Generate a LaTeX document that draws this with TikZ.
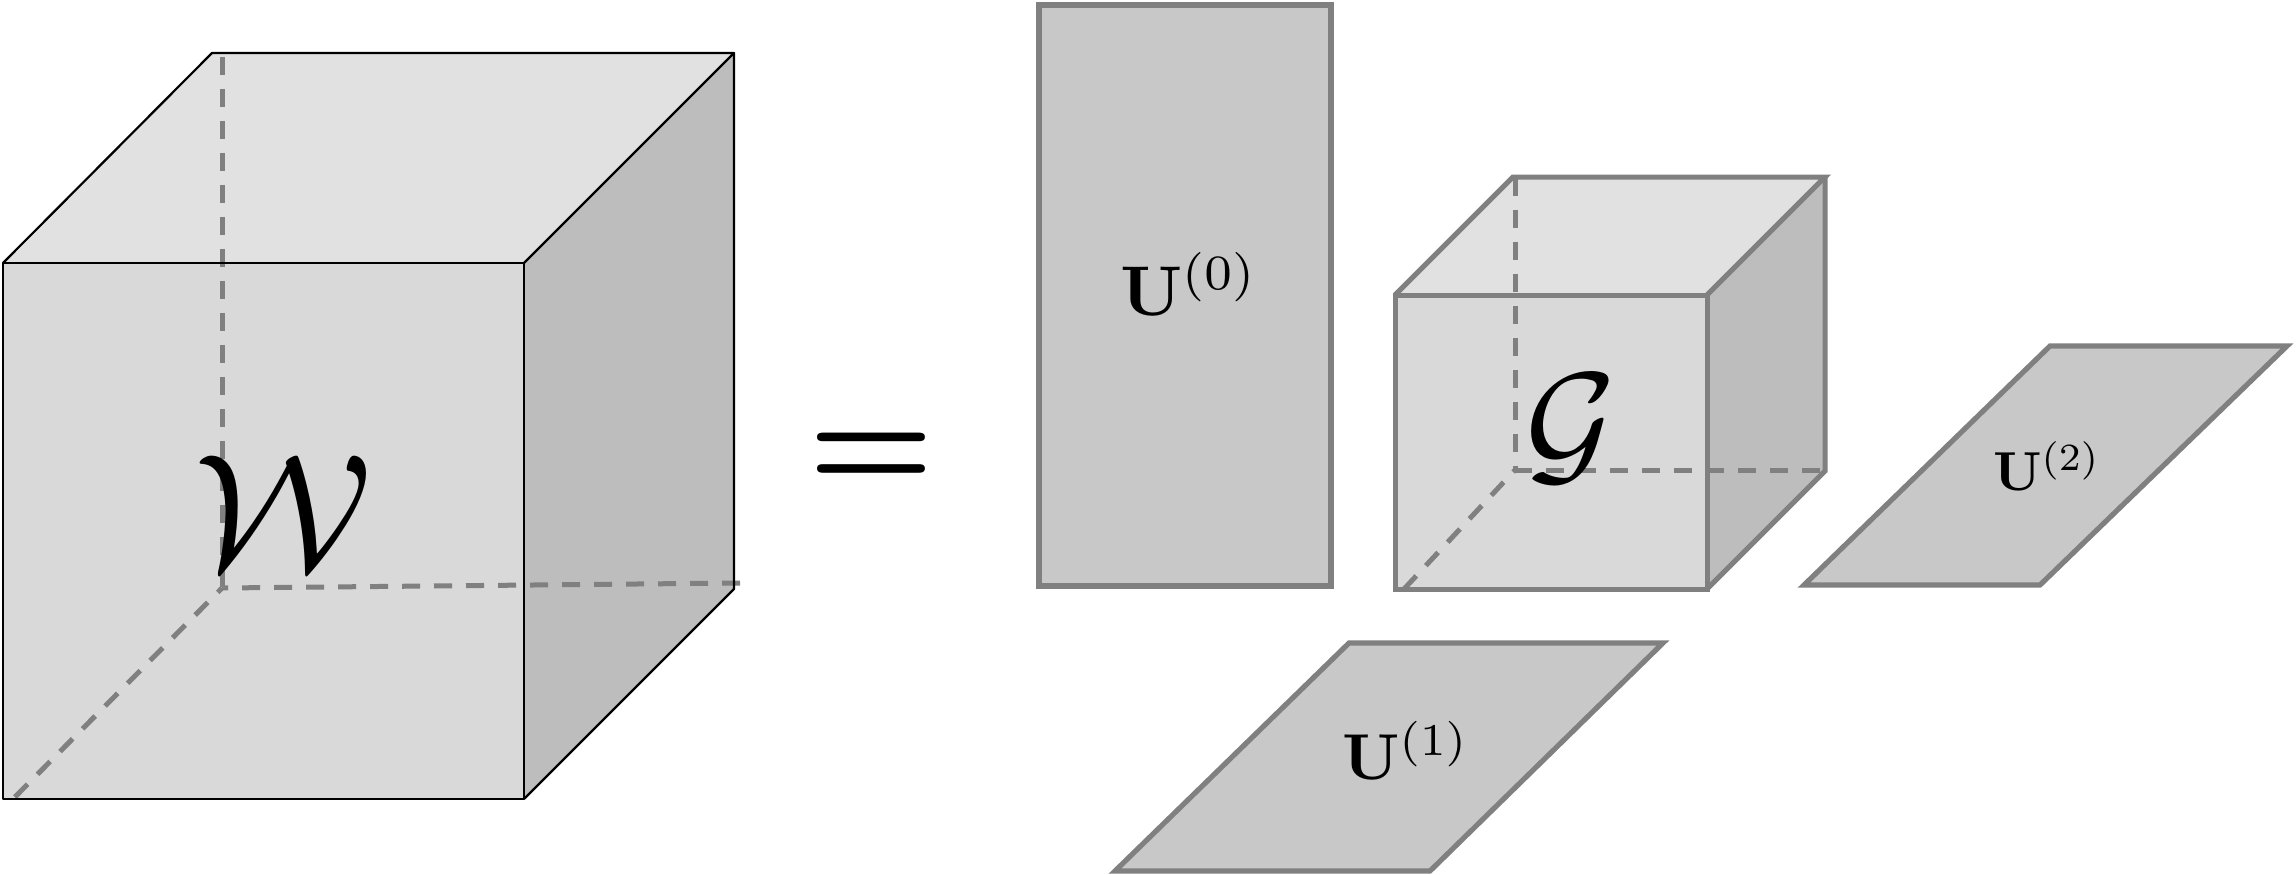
\documentclass[tikz,border=0pt]{standalone}
\begin{document}
\begin{tikzpicture}[x=1pt,y=-1pt,
  front/.style={fill=frontgray},
  topf/.style={fill=topgray},
  side/.style={fill=sidegray},
  bigedge/.style={draw=black,line width=2.2pt,line join=round},
  smalledge/.style={draw=edgegray,line width=5pt,line join=miter},
  bigdash/.style={draw=edgegray,line width=5pt,dash pattern=on 18pt off 14pt},
  smalldash/.style={draw=edgegray,line width=5pt,dash pattern=on 18pt off 14pt},
  matrixface/.style={draw=edgegray,fill=matgray,line width=5.2pt,line join=miter},
  lab/.style={inner sep=0pt,outer sep=0pt,anchor=base west}]
\definecolor{frontgray}{HTML}{D9D9D9}
\definecolor{topgray}{HTML}{E1E1E1}
\definecolor{sidegray}{HTML}{BDBDBD}
\definecolor{matgray}{HTML}{C8C8C8}
\definecolor{edgegray}{HTML}{808080}
\useasboundingbox (0,0) rectangle (2296,875);
% big cube
\fill[front] (3,263) -- (524,263) -- (524,799) -- (3,799) -- cycle;
\fill[topf] (3,263) -- (212,53) -- (734,53) -- (524,263) -- cycle;
\fill[side] (524,263) -- (734,53) -- (734,589) -- (524,799) -- cycle;
\draw[bigdash] (222,56.7) -- (222,588);
\draw[bigdash] (740,583) -- (222,588);
\draw[bigdash] (15,797) -- (222,588);
\draw[bigedge] (3,263) -- (524,263) -- (524,799) -- (3,799) -- cycle;
\draw[bigedge] (3,263) -- (212,53) -- (734,53) -- (524,263);
\draw[bigedge] (734,53) -- (734,589) -- (524,799);
\node[lab,scale=16.6] (w) at (194,569.5) {$\mathcal{W}$};
\node[lab,scale=14.1] (eq) at (808.5,488) {\textbf{=}};
% U0
\draw[matrixface] (1039,5) rectangle (1331,586);
\node[lab,scale=7.05] (u0) at (1120,315) {$\mathbf{U}^{(0)}$};
% core cube
\fill[front] (1395,295) -- (1707,295) -- (1707,589) -- (1395,589) -- cycle;
\fill[topf] (1395,295) -- (1513,177) -- (1825,177) -- (1707,295) -- cycle;
\fill[side] (1707,295) -- (1825,177) -- (1825,471) -- (1707,589) -- cycle;
\draw[smalldash] (1515,177.7) -- (1515,470);
\draw[smalldash] (1820,470) -- (1515,470);
\draw[smalldash] (1404,589) -- (1515,470);
\draw[smalledge] (1395,295) -- (1707,295) -- (1707,589) -- (1395,589) -- cycle;
\draw[smalledge] (1395,295) -- (1513,177) -- (1825,177) -- (1707,295);
\draw[smalledge] (1825,177) -- (1825,471) -- (1707,589);
\node[lab,scale=13.9] (g) at (1525,469.5) {$\mathcal{G}$};
% U2
\draw[matrixface] (1804,585) -- (2050,346) -- (2287,346) -- (2040,585) -- cycle;
\node[lab,scale=5.5] (u2) at (1993,490) {$\mathbf{U}^{(2)}$};
% U1
\draw[matrixface] (1115,871) -- (1349,643) -- (1663,643) -- (1430,871) -- cycle;
\node[lab,scale=6.5] (u1) at (1342,779) {$\mathbf{U}^{(1)}$};
\end{tikzpicture}
\end{document}
